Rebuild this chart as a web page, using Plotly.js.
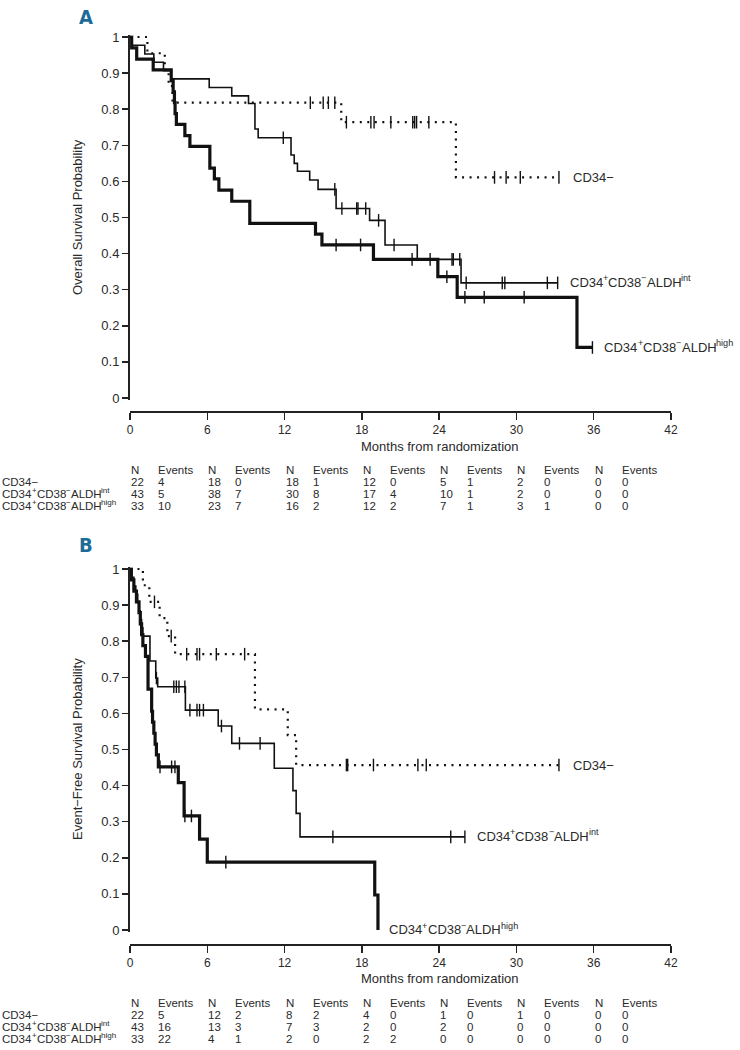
<!DOCTYPE html>
<html><head><meta charset="utf-8">
<script src="https://cdn.plot.ly/plotly-3.0.1.min.js"></script>
<style>html,body{margin:0;padding:0;background:#fff}</style>
</head><body>
<div id="chart" style="width:740px;height:1050px"></div>
<script>
// ---------- axes ----------
const monthTicks = [0, 6, 12, 18, 24, 30, 36, 42];
const probTicks = [0, 0.1, 0.2, 0.3, 0.4, 0.5, 0.6, 0.7, 0.8, 0.9, 1];
const probTickText = ['0', '0.1', '0.2', '0.3', '0.4', '0.5', '0.6', '0.7', '0.8', '0.9', '1'];
// group names, split into normal / superscript pieces
const groupNeg = [['CD34\u2212', 0]];
const groupInt = [['CD34', 0], ['+', 1], ['CD38', 0], ['\u2212', 1], ['ALDH', 0], ['int', 1]];
const groupHigh = [['CD34', 0], ['+', 1], ['CD38', 0], ['\u2212', 1], ['ALDH', 0], ['high', 1]];
const groupNames = [groupNeg, groupInt, groupHigh];

// ---------- Panel A: overall survival ----------
const osNegT = [1.35, 2.7, 3.0, 3.3, 16.4, 25.3];
const osNegS = [0.955, 0.909, 0.864, 0.818, 0.764, 0.611];
const osNegC = [14.0, 15.0, 15.4, 15.9, 16.8, 18.7, 18.95, 20.25, 21.95, 22.1, 22.25, 23.2, 28.3, 29.2, 30.3, 33.3];

const osIntT = [0.15, 1.15, 1.85, 2.6, 3.2, 6.15, 7.9, 9.2, 9.7, 9.95, 12.5, 12.75, 13.0, 13.95, 14.6, 16.0, 18.6, 19.8, 22.3, 25.7];
const osIntS = [0.977, 0.953, 0.930, 0.907, 0.884, 0.860, 0.837, 0.816, 0.745, 0.721, 0.673, 0.650, 0.628, 0.604, 0.578, 0.525, 0.492, 0.424, 0.384, 0.319];
const osIntC = [11.9, 15.9, 16.45, 17.6, 17.7, 18.3, 19.3, 20.5, 23.3, 25.0, 25.1, 25.6, 26.1, 28.9, 29.1, 32.4, 33.2];

const osHighT = [0.13, 0.52, 1.8, 3.2, 3.35, 3.45, 3.5, 3.6, 4.26, 4.65, 6.2, 6.55, 6.9, 7.9, 9.3, 14.4, 14.9, 18.9, 23.9, 25.4, 34.7];
const osHighS = [0.970, 0.939, 0.909, 0.879, 0.848, 0.818, 0.788, 0.758, 0.727, 0.697, 0.637, 0.607, 0.576, 0.545, 0.484, 0.454, 0.424, 0.384, 0.336, 0.279, 0.140];
const osHighC = [16.0, 17.9, 21.9, 24.6, 26.0, 27.5, 30.6, 35.9];

// risk table A
const riskTimes = [0, 6, 12, 18, 24, 30, 36];
const osNegN = [22, 18, 18, 12, 5, 2, 0];
const osNegE = [4, 0, 1, 0, 1, 0, 0];
const osIntN = [43, 38, 30, 17, 10, 2, 0];
const osIntE = [5, 7, 8, 4, 1, 0, 0];
const osHighN = [33, 23, 16, 12, 7, 3, 0];
const osHighE = [10, 7, 2, 2, 1, 1, 0];

// ---------- Panel B: event-free survival ----------
const efsNegT = [1.0, 1.5, 2.3, 2.9, 3.5, 9.7, 12.25, 12.9];
const efsNegS = [0.955, 0.909, 0.864, 0.814, 0.764, 0.611, 0.540, 0.457];
const efsNegC = [1.9, 3.2, 4.4, 5.2, 5.4, 6.7, 8.9, 16.8, 16.9, 18.9, 22.35, 23.0, 33.3];

const efsIntT = [0.15, 0.3, 0.45, 0.6, 0.7, 0.8, 0.9, 1.0, 1.55, 2.0, 2.15, 4.3, 6.85, 7.9, 11.2, 12.65, 12.9, 13.2];
const efsIntS = [0.977, 0.953, 0.930, 0.907, 0.884, 0.860, 0.837, 0.814, 0.745, 0.698, 0.674, 0.609, 0.565, 0.517, 0.448, 0.386, 0.323, 0.258];
const efsIntC = [2.05, 3.4, 3.6, 3.8, 4.26, 4.65, 5.2, 5.4, 5.7, 7.1, 8.5, 10.1, 15.75, 24.9, 26.0];

const efsHighT = [0.1, 0.3, 0.5, 0.7, 0.8, 0.9, 1.0, 1.2, 1.4, 1.68, 1.75, 1.85, 1.95, 2.05, 2.2, 3.75, 4.2, 5.4, 6.0, 19.0, 19.25];
const efsHighS = [0.970, 0.939, 0.909, 0.879, 0.848, 0.818, 0.788, 0.758, 0.667, 0.606, 0.576, 0.545, 0.515, 0.485, 0.452, 0.408, 0.316, 0.252, 0.188, 0.097, 0];
const efsHighC = [2.33, 3.23, 3.49, 4.26, 4.77, 7.44];

// risk table B
const efsNegN = [22, 12, 8, 4, 1, 1, 0];
const efsNegE = [5, 2, 2, 0, 0, 0, 0];
const efsIntN = [43, 13, 7, 2, 2, 0, 0];
const efsIntE = [16, 3, 3, 0, 0, 0, 0];
const efsHighN = [33, 4, 2, 2, 0, 0, 0];
const efsHighE = [22, 1, 0, 2, 0, 0, 0];

// ---------- helpers ----------
const W = 740, H = 1050;
const py = p => 1 - p / H;
const INK = '#111';
const TXT = '#2a2a2a';
const FONT = 'Liberation Sans, Arial, Helvetica, sans-serif';

const mctx = document.createElement('canvas').getContext('2d');
function textW(str, size) { mctx.font = size + 'px "Liberation Sans", Arial, Helvetica, sans-serif'; return mctx.measureText(str).width; }

const annotations = [];
// a label made of normal and superscript pieces, laid out left to right
function addRich(parts, xref, yref, x, y, xshift, size) {
  let dx = 0;
  parts.forEach(([t, sup]) => {
    const s = sup ? size * 0.7 : size;
    annotations.push({xref, yref, x, y, xanchor: 'left', yanchor: 'middle', xshift: xshift + dx, yshift: sup ? size * 0.34 : 0,
      text: t, showarrow: false, borderpad: 0, font: {family: FONT, size: s, color: TXT}});
    dx += textW(t, s);
  });
}

function survAt(T, S, t) { let s = 1; for (let i = 0; i < T.length; i++) if (T[i] <= t) s = S[i]; return s; }
function endTime(T, C) { return Math.max(T[T.length - 1], C.length ? C[C.length - 1] : 0); }

const styles = [
  {width: 2.2, dash: '2px,5.5px'},
  {width: 1.6, dash: 'solid'},
  {width: 3.2, dash: 'solid'}
];

const traces = [];

function addCurve(T, S, C, st, xa, ya, label, labelShift) {
  const x = [0], y = [1];
  T.forEach((t, i) => { x.push(t); y.push(S[i]); });
  const e = endTime(T, C);
  if (e > T[T.length - 1]) { x.push(e); y.push(S[S.length - 1]); }
  traces.push({type: 'scatter', mode: 'lines', x, y, xaxis: xa, yaxis: ya,
    line: {shape: 'hv', color: INK, width: st.width, dash: st.dash}, hoverinfo: 'skip'});
  traces.push({type: 'scatter', mode: 'markers', x: C, y: C.map(t => survAt(T, S, t)), xaxis: xa, yaxis: ya,
    marker: {symbol: 'line-ns-open', size: 9, color: INK, line: {width: 1.4, color: INK}}, cliponaxis: false, hoverinfo: 'skip'});
  addRich(label, xa, ya, e, S[S.length - 1], labelShift, 13);
}

// panel A
addCurve(osNegT, osNegS, osNegC, styles[0], 'x', 'y', groupNames[0], 13);
addCurve(osIntT, osIntS, osIntC, styles[1], 'x', 'y', groupNames[1], 11);
addCurve(osHighT, osHighS, osHighC, styles[2], 'x', 'y', groupNames[2], 11);
// panel B
addCurve(efsNegT, efsNegS, efsNegC, styles[0], 'x2', 'y2', groupNames[0], 13);
addCurve(efsIntT, efsIntS, efsIntC, styles[1], 'x2', 'y2', groupNames[1], 11);
addCurve(efsHighT, efsHighS, efsHighC, styles[2], 'x2', 'y2', groupNames[2], 10);

// risk tables
function addTable(xa, headerY, rowYs, Ns, Es) {
  const size = 11.5;
  const f = {family: FONT, size, color: TXT};
  riskTimes.forEach((t) => {
    annotations.push({xref: xa, yref: 'paper', x: t, y: py(headerY), xanchor: 'left', yanchor: 'middle', xshift: 0, borderpad: 0, text: 'N', showarrow: false, font: f});
    annotations.push({xref: xa, yref: 'paper', x: t, y: py(headerY), xanchor: 'left', yanchor: 'middle', xshift: 27, borderpad: 0, text: 'Events', showarrow: false, font: f});
  });
  rowYs.forEach((ry, r) => {
    addRich(groupNames[r], 'paper', 'paper', 0.002, py(ry), 0, size);
    riskTimes.forEach((t, j) => {
      annotations.push({xref: xa, yref: 'paper', x: t, y: py(ry), xanchor: 'left', yanchor: 'middle', xshift: 0, borderpad: 0, text: String(Ns[r][j]), showarrow: false, font: f});
      annotations.push({xref: xa, yref: 'paper', x: t, y: py(ry), xanchor: 'left', yanchor: 'middle', xshift: 27, borderpad: 0, text: String(Es[r][j]), showarrow: false, font: f});
    });
  });
}
addTable('x', 470, [482, 494, 506], [osNegN, osIntN, osHighN], [osNegE, osIntE, osHighE]);
addTable('x2', 1003, [1015, 1027, 1039], [efsNegN, efsIntN, efsHighN], [efsNegE, efsIntE, efsHighE]);

// titles and panel letters
const tf = {family: FONT, size: 13, color: TXT};
annotations.push({xref: 'paper', yref: 'paper', x: 77 / W, y: py(217), textangle: -90, text: 'Overall Survival Probability', showarrow: false, font: tf, xanchor: 'center', yanchor: 'middle'});
annotations.push({xref: 'paper', yref: 'paper', x: 77 / W, y: py(749), textangle: -90, text: 'Event\u2212Free Survival Probability', showarrow: false, font: tf, xanchor: 'center', yanchor: 'middle'});
annotations.push({xref: 'paper', yref: 'paper', x: 440 / W, y: py(446), text: 'Months from randomization', showarrow: false, font: tf, xanchor: 'center', yanchor: 'middle'});
annotations.push({xref: 'paper', yref: 'paper', x: 440 / W, y: py(978), text: 'Months from randomization', showarrow: false, font: tf, xanchor: 'center', yanchor: 'middle'});
const lf = {family: 'Liberation Sans Narrow, DejaVu Sans Condensed, Arial Narrow, sans-serif', size: 20, color: '#1c6b99'};
annotations.push({xref: 'paper', yref: 'paper', x: 86 / W, y: py(17), text: '<b>A</b>', showarrow: false, font: lf, xanchor: 'center', yanchor: 'middle'});
annotations.push({xref: 'paper', yref: 'paper', x: 86 / W, y: py(545), text: '<b>B</b>', showarrow: false, font: lf, xanchor: 'center', yanchor: 'middle'});

// axes
const xDom = [130 / W, 671 / W];
function xAxis(pos) {
  return {domain: xDom, range: [0, 42], anchor: 'free', position: pos, tickvals: monthTicks,
    ticks: 'outside', ticklen: 7, tickwidth: 1.5, tickcolor: '#222', showline: true, linecolor: '#222', linewidth: 2,
    showgrid: false, zeroline: false, tickfont: {family: FONT, size: 12, color: TXT}, fixedrange: true};
}
function yAxis(anchor, topPx, botPx) {
  const unit = (botPx - topPx);
  const top = topPx - 0.005 * unit, bot = botPx + 0.005 * unit;
  return {domain: [py(bot), py(top)], range: [-0.005, 1.005], anchor, tickvals: probTicks, ticktext: probTickText,
    ticks: 'outside', ticklen: 6, tickwidth: 1.5, tickcolor: '#222', showline: true, linecolor: '#222', linewidth: 2,
    showgrid: false, zeroline: false, tickfont: {family: FONT, size: 13, color: TXT}, fixedrange: true};
}

const layout = {
  width: W, height: H, margin: {l: 0, r: 0, t: 0, b: 0},
  paper_bgcolor: '#fff', plot_bgcolor: 'rgba(0,0,0,0)', showlegend: false,
  font: {family: FONT, color: TXT},
  xaxis: xAxis(py(412)),
  yaxis: yAxis('x', 37, 398),
  xaxis2: xAxis(py(945)),
  yaxis2: yAxis('x2', 569, 930),
  annotations
};

Plotly.newPlot('chart', traces, layout, {displayModeBar: false, staticPlot: true});
</script>
</body></html>
